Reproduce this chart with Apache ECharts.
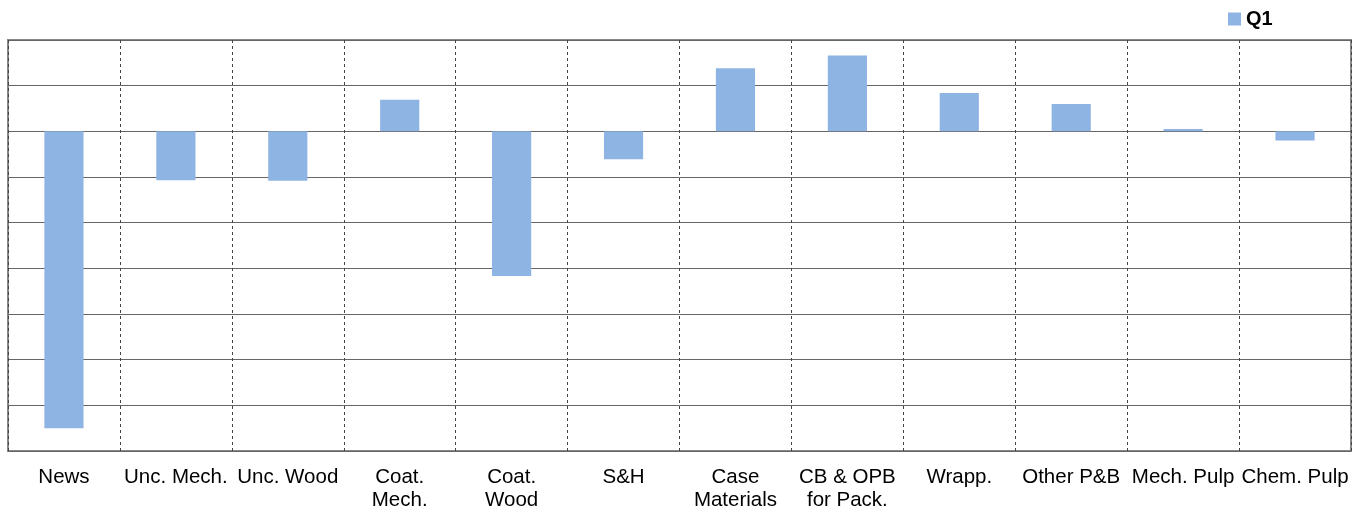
<!DOCTYPE html>
<html><head><meta charset="utf-8">
<script src="https://cdn.jsdelivr.net/npm/echarts@6/dist/echarts.min.js"></script>
<style>html,body{margin:0;padding:0;background:#fff}#c{width:1369px;height:513px}</style>
</head><body><div id="c"></div>
<script>
const categories = ["News","Unc. Mech.","Unc. Wood","Coat.\nMech.","Coat.\nWood","S&H","Case\nMaterials","CB & OPB\nfor Pack.","Wrapp.","Other P&B","Mech. Pulp","Chem. Pulp"];
const seriesName = "Q1";
const q1Values = [-6.5, -1.07, -1.08, 0.69, -3.17, -0.61, 1.38, 1.66, 0.84, 0.6, 0.05, -0.2];
const yMin = -7, yMax = 2, yInterval = 1;

const chart = echarts.init(document.getElementById('c'));
chart.setOption({
  animation: false,
  textStyle: {fontFamily: 'Liberation Sans, Arial, sans-serif'},
  legend: {
    data: [seriesName], left: 1223, top: 4, icon: 'rect', itemWidth: 13, itemHeight: 13, itemGap: 5,
    textStyle: {fontSize: 20, fontWeight: 'bold', color: '#000', fontFamily: 'Liberation Sans, Arial, sans-serif'}
  },
  grid: {left: 8, right: 18, top: 40, bottom: 62, show: true, borderColor: '#888', borderWidth: 2, containLabel: false},
  xAxis: {
    type: 'category', data: categories,
    axisLine: {show: false}, axisTick: {show: false},
    axisLabel: {interval: 0, fontSize: 20.5, lineHeight: 23, color: '#000', margin: 15, fontFamily: 'Liberation Sans, Arial, sans-serif'},
    splitLine: {show: true, interval: 0, lineStyle: {color: '#444', type: [3, 3], width: 1}}
  },
  yAxis: {
    type: 'value', min: yMin, max: yMax, interval: yInterval,
    axisLabel: {show: false}, axisLine: {show: false}, axisTick: {show: false},
    splitLine: {show: true, lineStyle: {color: '#666', width: 1}}
  },
  series: [{
    name: seriesName, type: 'bar', data: q1Values, barWidth: '35%',
    itemStyle: {color: '#8EB4E3'}
  }]
});
</script></body></html>
